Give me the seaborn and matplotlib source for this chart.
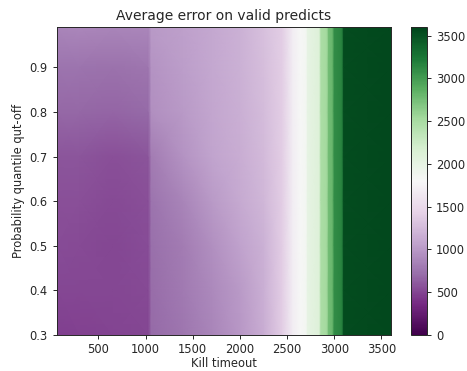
import numpy as np
import matplotlib
matplotlib.use("Agg")
import matplotlib.pyplot as plt
import seaborn as sns

# grid nodes (kill timeout, quantile cut-off)
left_cols = [60, 300, 650, 1030, 1060, 1400, 1700, 2000, 2250]
right_cols = [2450, 2560, 2640, 2700, 2720, 2840, 2860, 2920, 2940, 2980, 3000, 3080, 3100, 3600]
quantiles = [0.30, 0.40, 0.50, 0.60, 0.70, 0.80, 0.90, 0.99]

# average error, left part changes with the cut-off
left_rows = [
    [470, 490, 500, 510, 690, 770, 870, 990, 1150],
    [510, 520, 520, 530, 710, 790, 890, 1010, 1160],
    [540, 530, 520, 540, 730, 810, 930, 1060, 1180],
    [560, 550, 530, 550, 750, 860, 1010, 1120, 1220],
    [590, 580, 560, 590, 810, 960, 1070, 1150, 1250],
    [680, 680, 670, 690, 930, 1010, 1090, 1160, 1260],
    [750, 750, 740, 760, 970, 1030, 1100, 1170, 1270],
    [870, 880, 870, 880, 1010, 1050, 1110, 1180, 1280],
]
# right part is the same on every row
right_vals = [1400, 1700, 1800, 1850, 2000, 2100, 2480, 2520, 2760, 2800, 3100, 3150, 3530, 3560]

cbar_ticks = [0, 500, 1000, 1500, 2000, 2500, 3000, 3500]


def main():
    sns.set_style("ticks")
    plt.rcParams["font.family"] = ["DejaVu Sans"]

    xs = np.array(left_cols + right_cols)
    ys = np.array(quantiles)
    err = np.array([row + right_vals for row in left_rows], dtype=float)

    cmap = sns.color_palette("PRGn", as_cmap=True)

    fig = plt.figure(figsize=(4.67, 3.71), dpi=100)
    ax = fig.add_axes([0.122, 0.097, 0.715, 0.830])
    cax = fig.add_axes([0.880, 0.097, 0.034, 0.830])

    mesh = ax.pcolormesh(xs, ys, err, cmap=cmap, vmin=0, vmax=3600, shading="gouraud")
    ax.set_xlim(60, 3600)
    ax.set_ylim(0.3, 0.99)
    ax.set_xticks([500, 1000, 1500, 2000, 2500, 3000, 3500])
    ax.set_yticks([0.3, 0.4, 0.5, 0.6, 0.7, 0.8, 0.9])
    ax.tick_params(labelsize=8.3, length=3.2, width=0.7)
    ax.tick_params(axis="x", pad=2.5)
    ax.set_xlabel("Kill timeout", fontsize=8.3, labelpad=0.5)
    ax.set_ylabel("Probability quantile qut-off", fontsize=8.3, labelpad=3)
    ax.set_title("Average error on valid predicts", fontsize=10, pad=5)
    for s in ax.spines.values():
        s.set_linewidth(0.7)

    cb = fig.colorbar(mesh, cax=cax, ticks=cbar_ticks)
    cb.ax.tick_params(labelsize=8.3, length=3.2, width=0.7)
    cb.outline.set_linewidth(0.7)

    fig.savefig("out.png", dpi=100)
    plt.close(fig)


if __name__ == "__main__":
    main()
